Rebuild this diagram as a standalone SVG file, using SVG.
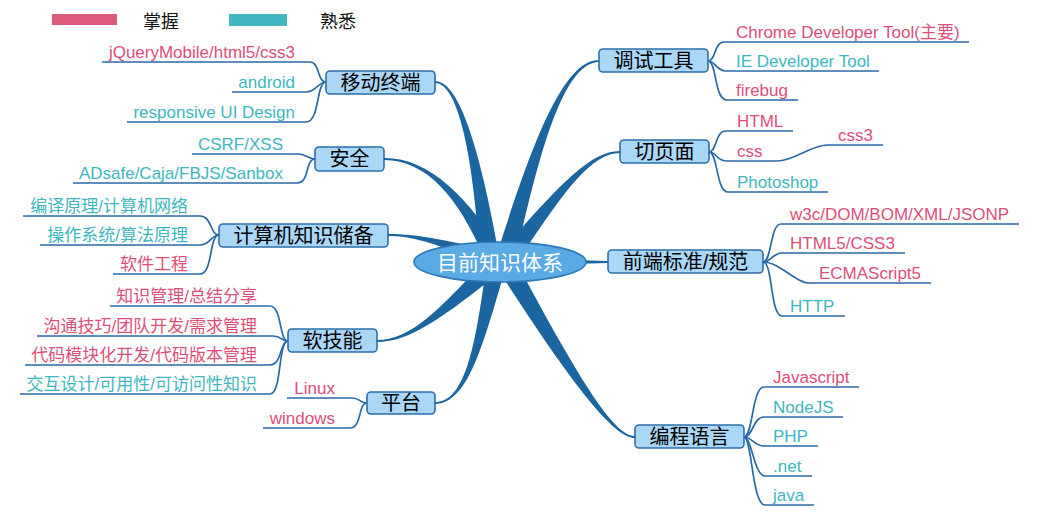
<svg xmlns="http://www.w3.org/2000/svg" width="1040" height="526" viewBox="0 0 1040 526">
<style>
text{font-family:"Liberation Sans","Noto Sans CJK SC",sans-serif}
.pk{fill:#de4f77;font-size:17px}
.tl{fill:#3db7c0;font-size:17px}
.e{text-anchor:end}
.lg{fill:#111;font-size:18px}
.node rect{fill:#aad7f6;stroke:#2c6fab;stroke-width:1.6}
.nl{fill:#000;font-size:20px;text-anchor:middle}
.leaf{fill:none;stroke:#2a6aa7;stroke-width:1.7}
.spoke{fill:#1b65a0}
</style>
<rect width="1040" height="526" fill="#fff"/>
<g id="legend">
<rect x="52" y="14" width="65" height="11" fill="#de5a7d"/>
<text class="lg" x="143" y="28">掌握</text>
<rect x="229" y="14" width="58" height="12" fill="#41b7c1"/>
<text class="lg" x="320" y="28">熟悉</text>
</g>
<g id="connectors">
<path class="spoke" d="M435,81 C461,81 482,159 500,260 L480,264 C474,161 459,83 435,83 Z"/>
<path class="spoke" d="M384,158 C430,157.5 468.6,198.2 505.9,257.4 L488.1,266.6 C461.4,201.8 430,160.5 384,160 Z"/>
<path class="spoke" d="M388,234 C420,234 451.3,241.2 502.9,253.5 L497.1,270.5 C448.7,248.8 420,236 388,236 Z"/>
<path class="spoke" d="M377,342 C410,342 442.7,317.9 503.8,269.3 L490.2,254.7 C437.3,312.1 410,340 377,340 Z"/>
<path class="spoke" d="M435,404 C469,404 483.9,340.9 506.8,264.1 L487.2,259.9 C476.1,339.1 467,402 435,402 Z"/>
<path class="spoke" d="M635,436 C615,436 583.5,388 513.6,257 L496.4,267 C576.5,392 615,438 635,438 Z"/>
<path class="spoke" d="M599,62 C566,62 540.9,141 514.7,264.5 L495.3,259.5 C533.1,139 564,60 599,60 Z"/>
<path class="spoke" d="M620,153 C590,153.5 563.2,192.4 513,268.1 L497,255.9 C556.8,187.6 590,150.5 620,151 Z"/>
<path class="spoke" d="M608,261 L500,258 L500,266 L608,263 Z"/>
<path class="leaf" d="M326,82 C317,82 320,62 310,62 H102"/>
<path class="leaf" d="M326,82 C318,82 316,92 306,92 H232"/>
<path class="leaf" d="M326,82 C316,82 320,122 306,122 H127"/>
<path class="leaf" d="M315,159 C307,159 308,154 298,154 H192"/>
<path class="leaf" d="M315,159 C305,159 310,183 297,183 H73"/>
<path class="leaf" d="M219,235 C210,235 212,216 200,216 H23"/>
<path class="leaf" d="M219,235 C211,235 210,245 200,245 H40"/>
<path class="leaf" d="M219,235 C209,235 213,274 200,274 H113"/>
<path class="leaf" d="M288,341 C279,341 282,306 270,306 H110"/>
<path class="leaf" d="M288,341 C281,341 282,336 273,336 H37"/>
<path class="leaf" d="M288,341 C280,341 282,365 270,365 H25"/>
<path class="leaf" d="M288,341 C278,341 282,394 270,394 H20"/>
<path class="leaf" d="M367,403 C360,403 360,398 352,398 H287"/>
<path class="leaf" d="M367,403 C358,403 362,428 350,428 H263"/>
<path class="leaf" d="M708,61 C716,61 714,42 724,42 H969"/>
<path class="leaf" d="M708,61 C716,61 716,71 726,71 H879"/>
<path class="leaf" d="M708,61 C717,61 714,100 727,100 H798"/>
<path class="leaf" d="M709,152 C717,152 715,131 726,131 H793"/>
<path class="leaf" d="M709,152 C717,152 716,161 727,161 H777 C795,161 810,145 828,145 H883"/>
<path class="leaf" d="M709,152 C718,152 716,192 728,192 H828"/>
<path class="leaf" d="M763,262 C772,262 770,224 781,224 H1019"/>
<path class="leaf" d="M763,262 C772,262 772,253 782,253 H905"/>
<path class="leaf" d="M763,262 C780,262 795,283 810,283 H931"/>
<path class="leaf" d="M763,262 C773,262 770,316 782,316 H845"/>
<path class="leaf" d="M744,437 C753,437 752,387 764,387 H859"/>
<path class="leaf" d="M744,437 C753,437 753,417 764,417 H843"/>
<path class="leaf" d="M744,437 C752,437 754,446 764,446 H818"/>
<path class="leaf" d="M744,437 C752,437 754,476 765,476 H812"/>
<path class="leaf" d="M744,437 C752,437 752,505 765,505 H814"/>
</g>
<g id="center">
<ellipse cx="500" cy="262" rx="86" ry="20" fill="#5aaae6" stroke="#2e77b7" stroke-width="1.6"/>
<text x="500" y="269.5" fill="#fff" font-size="21" text-anchor="middle">目前知识体系</text>
</g>
<g id="n-mobile" class="node">
<rect x="326" y="71" width="109" height="23" rx="4"/>
<text class="nl" x="380.5" y="89.5">移动终端</text>
<text class="pk e" x="295" y="58">jQueryMobile/html5/css3</text>
<text class="tl e" x="295" y="88">android</text>
<text class="tl e" x="295" y="118">responsive UI Design</text>
</g>
<g id="n-security" class="node">
<rect x="315" y="147" width="69" height="24" rx="4"/>
<text class="nl" x="349.5" y="166">安全</text>
<text class="tl e" x="283" y="150">CSRF/XSS</text>
<text class="tl e" x="283" y="179">ADsafe/Caja/FBJS/Sanbox</text>
</g>
<g id="n-cs" class="node">
<rect x="219" y="224" width="169" height="23" rx="4"/>
<text class="nl" x="303.5" y="242.5">计算机知识储备</text>
<text class="tl e" x="188" y="212">编译原理/计算机网络</text>
<text class="tl e" x="188" y="241">操作系统/算法原理</text>
<text class="pk e" x="188" y="270">软件工程</text>
</g>
<g id="n-soft" class="node">
<rect x="288" y="329" width="89" height="23" rx="4"/>
<text class="nl" x="332.5" y="347.5">软技能</text>
<text class="pk e" x="257" y="302">知识管理/总结分享</text>
<text class="pk e" x="257" y="332">沟通技巧/团队开发/需求管理</text>
<text class="pk e" x="257" y="361">代码模块化开发/代码版本管理</text>
<text class="tl e" x="257" y="390">交互设计/可用性/可访问性知识</text>
</g>
<g id="n-platform" class="node">
<rect x="367" y="392" width="68" height="22" rx="4"/>
<text class="nl" x="401" y="410">平台</text>
<text class="pk e" x="335" y="394">Linux</text>
<text class="pk e" x="335" y="424">windows</text>
</g>
<g id="n-debug" class="node">
<rect x="599" y="49" width="109" height="23" rx="4"/>
<text class="nl" x="653.5" y="67.5">调试工具</text>
<text class="pk" x="736" y="38">Chrome Developer Tool(主要)</text>
<text class="tl" x="736" y="67">IE Developer Tool</text>
<text class="pk" x="736" y="96">firebug</text>
</g>
<g id="n-page" class="node">
<rect x="620" y="140" width="89" height="23" rx="4"/>
<text class="nl" x="664.5" y="158.5">切页面</text>
<text class="pk" x="737" y="127">HTML</text>
<text class="pk" x="737" y="157">css</text>
<text class="pk" x="838" y="141">css3</text>
<text class="tl" x="737" y="188">Photoshop</text>
</g>
<g id="n-standard" class="node">
<rect x="608" y="250" width="155" height="23" rx="4"/>
<text class="nl" x="685.5" y="268.5">前端标准/规范</text>
<text class="pk" x="790" y="220">w3c/DOM/BOM/XML/JSONP</text>
<text class="pk" x="790" y="249">HTML5/CSS3</text>
<text class="pk" x="819" y="279">ECMAScript5</text>
<text class="tl" x="790" y="312">HTTP</text>
</g>
<g id="n-lang" class="node">
<rect x="635" y="425" width="109" height="23" rx="4"/>
<text class="nl" x="689.5" y="443.5">编程语言</text>
<text class="pk" x="773" y="383">Javascript</text>
<text class="tl" x="773" y="413">NodeJS</text>
<text class="tl" x="773" y="442">PHP</text>
<text class="tl" x="773" y="472">.net</text>
<text class="tl" x="773" y="501">java</text>
</g>
</svg>
